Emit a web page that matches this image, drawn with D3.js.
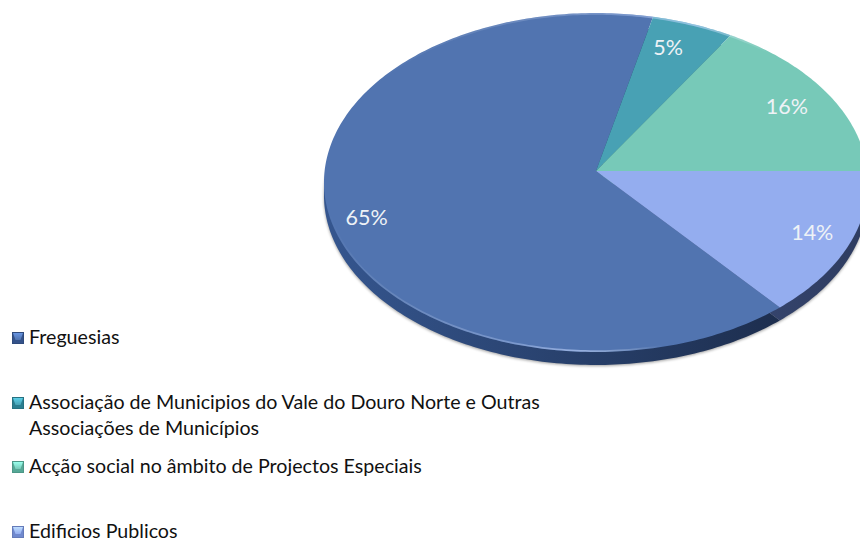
<!DOCTYPE html>
<html>
<head>
<meta charset="utf-8">
<script src="https://cdn.jsdelivr.net/npm/d3@7"></script>
<style>
  html, body { margin: 0; padding: 0; background: #fff; }
  svg { display: block; }
  text { font-family: Lato, "Open Sans", sans-serif; }
</style>
</head>
<body>
<svg width="860" height="542"></svg>
<script>
// chart values (labels are the rounded ones)
const categories = ["Freguesias", "Associação de Municipios do Vale do Douro Norte e Outras|Associações de Municípios", "Acção social no âmbito de Projectos Especiais", "Edificios Publicos"];
const values = [64.7, 5.2, 16.2, 13.9];
const percentLabels = ["65%", "5%", "16%", "14%"];

const faceColors = ["#5174B0", "#48A1B4", "#77C9B8", "#94ADEF"];
const edgeLeft = ["#35568F", "#2c6a78", "#4a8a7c", "#3F5080"];
const edgeRight = ["#1D2E4E", "#2c6a78", "#4a8a7c", "#2E3C60"];
const swatchDark = ["#34528A", "#2A7E90", "#55A896", "#7089CE"];
const labelShift = [[-2, 13], [-11, 2], [-5, 3], [2, -1]];
const legendBaselines = [[344], [409, 435], [473], [538]];

let svg = d3.select("svg");
const cx = 596, cy = 171;   // where the slices meet
const R = 271.4, A = 168.7, B = -0.0678; // tilt of the pie
const depth = 13;

// circle -> tilted screen position, angle clockwise from the top
function project(angle, r) {
  let u = Math.sin(angle) * r, v = -Math.cos(angle) * r;
  let w = 1 + B * v;
  return [cx + R * u / w, cy + A * v / w];
}

let startDeg = 90 + 13.9 * 3.6;
let pie = d3.pie().sort(null).startAngle(startDeg * Math.PI / 180).endAngle((startDeg + 360) * Math.PI / 180);
let arcs = pie(values);
let line = d3.line();

function outerPoints(a) {
  let n = Math.max(4, Math.ceil((a.endAngle - a.startAngle) * 60));
  return d3.range(n + 1).map(i => project(a.startAngle + (a.endAngle - a.startAngle) * i / n, 1));
}
function wedge(a) {
  return line([[cx, cy], ...outerPoints(a)]) + "Z";
}
let outline = line(arcs.flatMap(outerPoints)) + "Z";

let defs = svg.append("defs");
defs.append("filter").attr("id", "blur").attr("x", "-10%").attr("y", "-10%").attr("width", "120%").attr("height", "120%")
  .append("feGaussianBlur").attr("stdDeviation", 1.6);
defs.append("filter").attr("id", "soft").attr("x", "-10%").attr("y", "-10%").attr("width", "120%").attr("height", "120%")
  .append("feGaussianBlur").attr("stdDeviation", 0.6);

arcs.forEach((a, i) => {
  let g = defs.append("linearGradient").attr("id", "edge" + i);
  g.append("stop").attr("offset", "0%").attr("stop-color", edgeLeft[i]);
  g.append("stop").attr("offset", "100%").attr("stop-color", edgeRight[i]);
  let s = defs.append("linearGradient").attr("id", "swatch" + i).attr("x1", 0).attr("y1", 0).attr("x2", 0).attr("y2", 1);
  s.append("stop").attr("offset", "0%").attr("stop-color", d3.color(faceColors[i]).brighter(0.7));
  s.append("stop").attr("offset", "100%").attr("stop-color", faceColors[i]);
});
// lower rim highlight, strongest low on the left, gone by the right
let rimGrad = defs.append("linearGradient").attr("id", "rim").attr("gradientUnits", "userSpaceOnUse")
  .attr("x1", 324).attr("y1", 230).attr("x2", 660).attr("y2", 352);
rimGrad.append("stop").attr("offset", "0%").attr("stop-color", "#fff").attr("stop-opacity", 0);
rimGrad.append("stop").attr("offset", "60%").attr("stop-color", "#C5D8FF").attr("stop-opacity", 0.35);
rimGrad.append("stop").attr("offset", "78%").attr("stop-color", "#C5D8FF").attr("stop-opacity", 0.6);
rimGrad.append("stop").attr("offset", "100%").attr("stop-color", "#fff").attr("stop-opacity", 0);

defs.append("clipPath").attr("id", "faceClip").append("path").attr("d", outline);

// soft shadow
svg.append("path")
  .attr("d", outline)
  .attr("transform", `translate(0,${depth + 1})`)
  .attr("fill", "#000").attr("opacity", 0.38).attr("filter", "url(#blur)");

// side of the pie
svg.append("g").selectAll("path").data(arcs).join("path")
  .attr("d", wedge)
  .attr("transform", `translate(0,${depth})`)
  .attr("fill", (d, i) => `url(#edge${i})`);

// top faces
svg.append("g").selectAll("path").data(arcs).join("path")
  .attr("d", wedge)
  .attr("fill", (d, i) => faceColors[i]);

// light bevel along the lower rim
svg.append("g").attr("clip-path", "url(#faceClip)")
  .append("path")
  .attr("d", outline)
  .attr("fill", "none").attr("stroke", "url(#rim)").attr("stroke-width", 3.5)
  .attr("filter", "url(#soft)");

// percent labels
svg.append("g").selectAll("text").data(arcs).join("text")
  .attr("x", (d, i) => project((d.startAngle + d.endAngle) / 2, 0.85)[0] + labelShift[i][0])
  .attr("y", (d, i) => project((d.startAngle + d.endAngle) / 2, 0.85)[1] + labelShift[i][1])
  .attr("dy", "0.35em")
  .attr("text-anchor", "middle")
  .attr("font-size", 21.5)
  .attr("fill", "#EEF2F6")
  .text((d, i) => percentLabels[i]);

// legend
let legend = svg.append("g");
categories.forEach((c, i) => {
  let base = legendBaselines[i], top = base[0] - 12;
  legend.append("rect")
    .attr("x", 12.5).attr("y", top + 0.5).attr("width", 11).attr("height", 11)
    .attr("fill", swatchDark[i])
    .attr("stroke", d3.color(swatchDark[i]).darker(0.3)).attr("stroke-width", 1);
  legend.append("path")
    .attr("d", line([[13, top + 1], [23, top + 1], [20.5, top + 8], [15.5, top + 8]]) + "Z")
    .attr("fill", `url(#swatch${i})`);
  c.split("|").forEach((t, j) => {
    legend.append("text")
      .attr("x", 29).attr("y", base[j])
      .attr("font-size", 19.65)
      .attr("fill", "#111")
      .text(t);
  });
});
</script>
</body>
</html>
